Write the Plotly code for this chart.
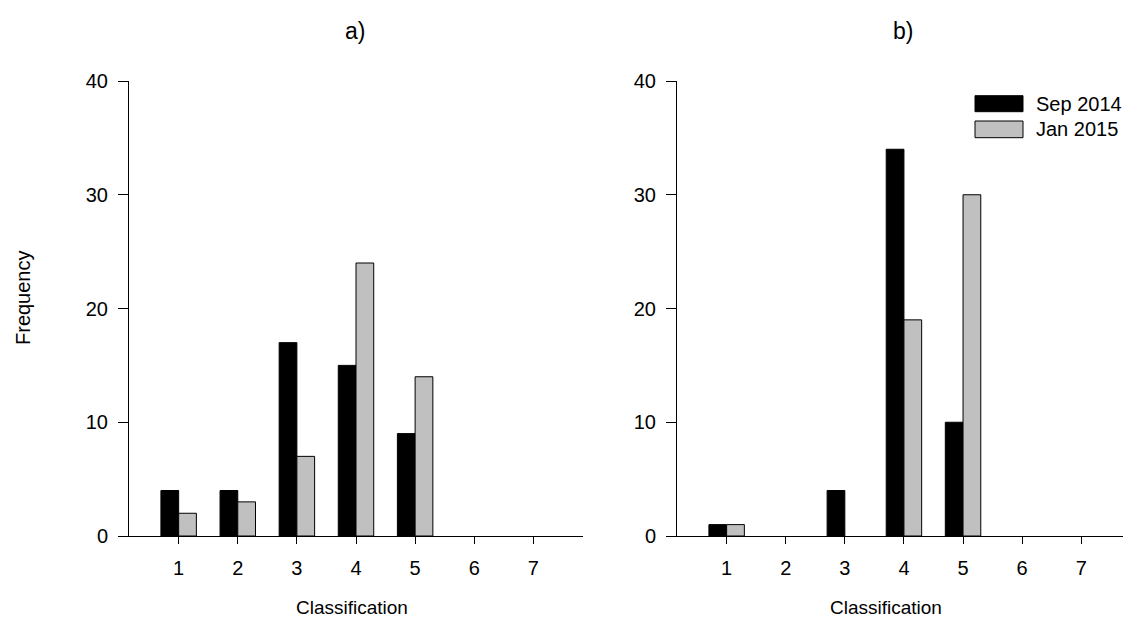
import plotly.graph_objects as go

W, H = 1123, 621

categories = [1, 2, 3, 4, 5, 6, 7]
sep_a = [4, 4, 17, 15, 9, 0, 0]
jan_a = [2, 3, 7, 24, 14, 0, 0]
sep_b = [1, 0, 4, 34, 10, 0, 0]
jan_b = [1, 0, 0, 19, 30, 0, 0]
series_names = ["Sep 2014", "Jan 2015"]
series_colors = ["#000000", "#c0c0c0"]
y_ticks = [0, 10, 20, 30, 40]

FONT = "Arial, 'Liberation Sans', sans-serif"

def px(x):
    return x / W

def py(y):
    return 1 - y / H

fig = go.Figure()

def bar(vals, name, col, xa, ya):
    return go.Bar(x=categories, y=vals, name=name,
                  marker=dict(color=col, line=dict(color="#000000", width=[1 if v > 0 else 0 for v in vals])),
                  xaxis=xa, yaxis=ya, showlegend=False)

for vals, name, col in zip([sep_a, jan_a], series_names, series_colors):
    fig.add_trace(bar(vals, name, col, "x", "y"))
for vals, name, col in zip([sep_b, jan_b], series_names, series_colors):
    fig.add_trace(bar(vals, name, col, "x2", "y2"))

y_dom = [py(536), py(81)]

xcommon = dict(showline=True, linecolor="#000000", linewidth=1, ticks="outside", ticklen=7, tickwidth=1,
               tickcolor="#000000", showgrid=False, zeroline=False, tickmode="array", tickvals=categories,
               tickfont=dict(family=FONT, size=20, color="#000000"), ticklabelstandoff=7, automargin=False)
ycommon = dict(showline=True, linecolor="#000000", linewidth=1, ticks="outside", ticklen=10, tickwidth=1,
               tickcolor="#000000", showgrid=False, zeroline=False, tickmode="array", tickvals=y_ticks,
               range=[0, 40], tickfont=dict(family=FONT, size=20, color="#000000"), ticklabelstandoff=6,
               automargin=False)

fig.update_layout(
    template="none",
    width=W, height=H,
    margin=dict(l=0, r=0, t=0, b=0, pad=0),
    paper_bgcolor="white", plot_bgcolor="white",
    barmode="group", bargap=0.4, bargroupgap=0,
    xaxis=dict(domain=[px(129), px(583)], range=[0.16, 7.84], anchor="y", **xcommon),
    yaxis=dict(domain=y_dom, anchor="x", **ycommon),
    xaxis2=dict(domain=[px(677), 1.0], range=[0.16, 0.16 + (W - 677) / 59.1], anchor="y2", **xcommon),
    yaxis2=dict(domain=y_dom, anchor="x2", **ycommon),
    showlegend=False,
)

annots = [
    dict(text="a)", x=px(355), y=py(31), size=23),
    dict(text="b)", x=px(903), y=py(31), size=23),
    dict(text="Classification", x=px(352), y=py(607), size=19),
    dict(text="Classification", x=px(886), y=py(607), size=19),
]
for a in annots:
    fig.add_annotation(text=a["text"], x=a["x"], y=a["y"], xref="paper", yref="paper", showarrow=False,
                       xanchor="center", yanchor="middle", font=dict(family=FONT, size=a["size"], color="#000000"))
fig.add_annotation(text="Frequency", x=px(23), y=py(297), xref="paper", yref="paper", showarrow=False,
                   textangle=-90, xanchor="center", yanchor="middle", font=dict(family=FONT, size=20, color="#000000"))

# manual legend
leg_rows = [(95.7, 111.7), (121, 137.7)]
for (y0, y1), name, col in zip(leg_rows, series_names, series_colors):
    fig.add_shape(type="rect", xref="paper", yref="paper", x0=px(975), x1=px(1023), y0=py(y1), y1=py(y0),
                  fillcolor=col, line=dict(color="#000000", width=1))
    fig.add_annotation(text=name, x=px(1034), y=py((y0 + y1) / 2), xref="paper", yref="paper", showarrow=False,
                       xanchor="left", yanchor="middle", font=dict(family=FONT, size=20, color="#000000"))

fig.write_html("out.html")
